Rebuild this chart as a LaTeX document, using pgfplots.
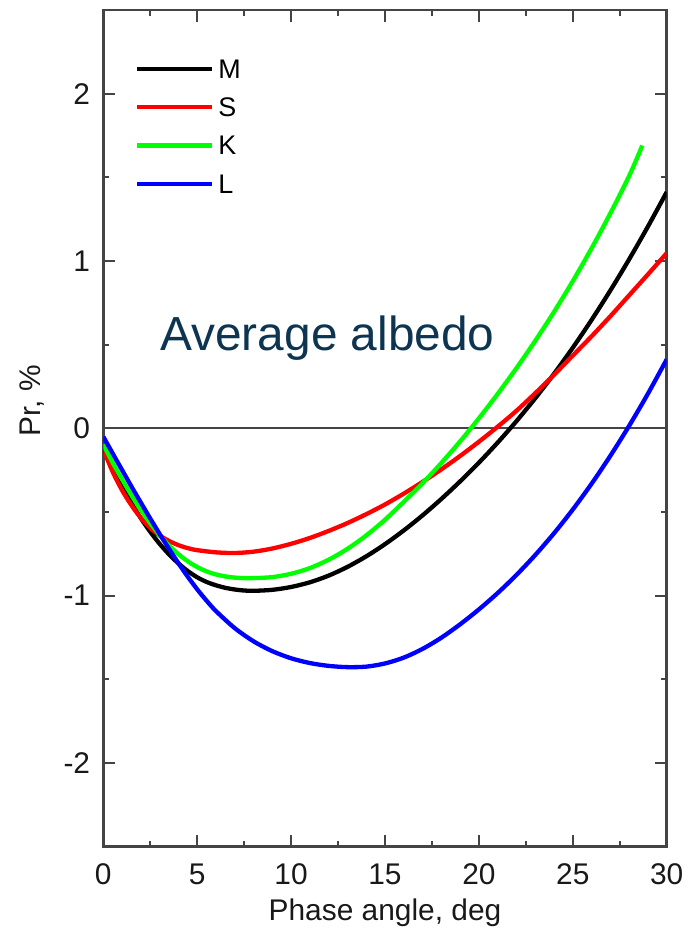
\documentclass[border=0pt]{standalone}
\usepackage{fontspec}
\setmainfont{Liberation Sans}
\usepackage{pgfplots}
\pgfplotsset{compat=1.18}
\definecolor{avgcol}{RGB}{13,53,81}
\definecolor{framecol}{RGB}{68,68,68}
\definecolor{kgreen}{RGB}{0,255,0}
\begin{document}
\begin{tikzpicture}
\begin{axis}[
  name=ax,
  scale only axis,
  width=563.4bp, height=836.7bp,
  xmin=0, xmax=30, ymin=-2.5, ymax=2.5,
  xtick={0,5,10,15,20,25,30},
  ytick={-2,-1,0,1,2},
  yticklabels={-2,-1,0,1,2},
  minor xtick={2.5,7.5,12.5,17.5,22.5,27.5},
  minor ytick={-1.5,-0.5,0.5,1.5},
  tick align=inside,
  major tick length=12bp,
  minor tick length=6bp,
  axis line style={line width=2.5bp, framecol},
  every tick/.style={line width=2bp, framecol},
  /pgf/number format/assume math mode=true,
  tick label style={font=\fontsize{30}{36}\selectfont, text=black!90},
  xticklabel style={anchor=base, yshift=-37.3bp},
  yticklabel style={inner sep=0pt, xshift=-13bp},
  xlabel={Phase angle, deg},
  ylabel={Pr, \%},
  xlabel style={font=\fontsize{30}{36}\selectfont, text=black!90, at={(axis description cs:0.5,0)}, anchor=base, yshift=-73.3bp},
  ylabel style={font=\fontsize{30}{36}\selectfont, text=black!90, at={(axis description cs:-0.126,0.533)}, anchor=center},
  legend style={draw=none, fill=none, at={(axis cs:1.69,2.205)}, anchor=north west,
    inner sep=0pt, outer sep=0pt, font=\fontsize{27}{32}\selectfont,
    nodes={inner sep=0pt, text height=19bp, text depth=0pt},
    row sep=19.3bp, column sep=4bp},
  legend cell align=left,
  legend image code/.code={\draw[#1] (0bp,0bp) -- (75bp,0bp);},
  every axis plot/.append style={line width=4.3bp},
]
\addplot[framecol, line width=2bp, forget plot] coordinates {(0,0) (30,0)};
\addplot[black, smooth] coordinates {
(0,-0.12) (0.5,-0.24) (1,-0.348) (1.5,-0.447) (2,-0.537) (2.5,-0.618) (3,-0.69) (3.5,-0.753) (4,-0.807)
(4.5,-0.853) (5,-0.89) (5.5,-0.918) (6,-0.938) (6.5,-0.953) (7,-0.963) (7.5,-0.969) (8,-0.971)
(9,-0.965) (10,-0.948) (11,-0.92) (12,-0.88) (13,-0.828) (14,-0.765) (15,-0.692) (16,-0.61) (17,-0.52)
(18,-0.422) (19,-0.317) (20,-0.205) (21,-0.085) (22,0.043) (23,0.18) (24,0.326) (25,0.482) (26,0.648)
(27,0.824) (28,1.01) (29,1.206) (30,1.412)};
\addlegendentry{M}
\addplot[red, smooth] coordinates {
(0,-0.125) (0.5,-0.26) (1,-0.37) (1.5,-0.46) (2,-0.535) (2.5,-0.595) (3,-0.64) (3.5,-0.673) (4,-0.698)
(4.5,-0.716) (5,-0.728) (6,-0.741) (7,-0.745) (8,-0.737) (9,-0.718) (10,-0.69) (11,-0.655) (12,-0.613)
(13,-0.566) (14,-0.513) (15,-0.455) (16,-0.39) (17,-0.32) (18,-0.245) (19,-0.165) (20,-0.08) (21,0.01)
(22,0.105) (23,0.21) (24,0.32) (25,0.435) (26,0.55) (27,0.67) (28,0.795) (29,0.92) (30,1.047)};
\addlegendentry{S}
\addplot[kgreen, smooth] coordinates {
(0,-0.095) (0.5,-0.205) (1,-0.305) (1.5,-0.4) (2,-0.487) (2.5,-0.567) (3,-0.638) (3.5,-0.7) (4,-0.752)
(4.5,-0.795) (5,-0.829) (5.5,-0.855) (6,-0.873) (6.5,-0.885) (7,-0.892) (7.5,-0.895) (8,-0.895)
(9,-0.889) (10,-0.869) (11,-0.835) (12,-0.785) (13,-0.72) (14,-0.64) (15,-0.546) (16,-0.439) (17,-0.328)
(18,-0.207) (19,-0.078) (20,0.06) (21,0.206) (22,0.36) (23,0.523) (24,0.696) (25,0.88) (26,1.076)
(27,1.285) (28,1.508) (28.7,1.69)};
\addlegendentry{K}
\addplot[blue, smooth] coordinates {
(0,-0.05) (0.5,-0.15) (1,-0.249) (1.5,-0.348) (2,-0.444) (2.5,-0.539) (3,-0.631) (3.5,-0.72) (4,-0.806)
(4.5,-0.887) (5,-0.962) (5.5,-1.03) (6,-1.092) (7,-1.194) (8,-1.2725) (9,-1.3315) (10,-1.374) (11,-1.4025)
(12,-1.4195) (13,-1.427) (14,-1.424) (15,-1.405) (16,-1.37) (17,-1.318) (18,-1.251) (19,-1.171) (20,-1.082)
(21,-0.984) (22,-0.876) (23,-0.757) (24,-0.627) (25,-0.485) (26,-0.331) (27,-0.164) (28,0.015) (29,0.207) (30,0.412)};
\addlegendentry{L}
\node[anchor=base west, inner sep=0pt, font=\fontsize{48}{58}\selectfont, text=avgcol] at (axis cs:3.03,0.463) {Average albedo};
\end{axis}
\pgfresetboundingbox
\path ([shift={(-103.3bp,-90.3bp)}]ax.south west) rectangle ([shift={(585.7bp,846.7bp)}]ax.south west);
\end{tikzpicture}
\end{document}
